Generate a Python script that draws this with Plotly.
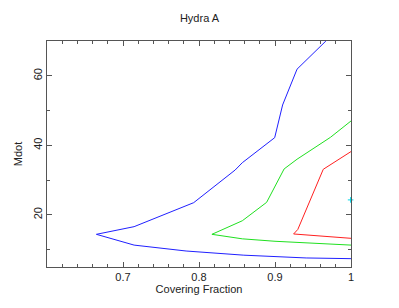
import plotly.graph_objects as go

# Contour lines (covering fraction vs Mdot)
blue_x = [0.975, 0.967, 0.929, 0.910, 0.8996, 0.857, 0.8476, 0.793, 0.7146, 0.665,
          0.7146, 0.783, 0.859, 0.941, 1.0]
blue_y = [72.0, 70.0, 61.9, 51.6, 42.2, 35.0, 32.9, 23.5, 16.6, 14.4,
          11.3, 9.6, 8.4, 7.6, 7.4]

green_x = [1.0, 0.973, 0.929, 0.912, 0.889, 0.88, 0.857, 0.817,
           0.857, 0.9, 1.0]
green_y = [47.0, 42.3, 36.0, 33.2, 23.6, 22.1, 18.3, 14.4,
           13.1, 12.4, 11.3]

red_x = [1.0, 0.9635, 0.93, 0.9245, 1.0]
red_y = [38.2, 33.1, 15.8, 14.5, 13.25]

cyan_x = [0.9995]
cyan_y = [24.3]

title = "Hydra A"
xlabel = "Covering Fraction"
ylabel = "Mdot"
x_ticks = [0.7, 0.8, 0.9, 1.0]
x_ticklabels = ["0.7", "0.8", "0.9", "1"]
y_ticks = [20, 40, 60]

fig = go.Figure()
for xs, ys, col in [(blue_x, blue_y, "#2020ff"), (green_x, green_y, "#20e020"),
                    (red_x, red_y, "#ff2020")]:
    fig.add_trace(go.Scatter(x=xs, y=ys, mode="lines",
                             line=dict(color=col, width=1), showlegend=False))
fig.add_trace(go.Scatter(x=cyan_x, y=cyan_y, mode="markers",
                         marker=dict(symbol="cross-thin", size=4,
                                     line=dict(color="#00d8e8", width=1)),
                         showlegend=False, cliponaxis=False))

font = dict(family="Liberation Sans, Arial, sans-serif", size=11, color="#222222")
axis_common = dict(
    showgrid=False, zeroline=False, showline=True, mirror="allticks",
    linecolor="#555555", linewidth=1, ticks="inside", ticklen=5,
    tickcolor="#555555", tickwidth=1, tickfont=font, automargin=False,
)
fig.update_layout(
    width=399, height=308,
    margin=dict(l=39, r=56, t=33, b=49),
    paper_bgcolor="white", plot_bgcolor="white",
    title=dict(text=title, x=(39 + 352 - 8) / 2 / 399, xanchor="center",
               y=0.967, yanchor="middle", font=font),
    xaxis=dict(range=[0.6, 1.0], tickvals=x_ticks, ticktext=x_ticklabels,
               title=dict(text=xlabel, font=font, standoff=1),
               minor=dict(dtick=0.02, ticks="inside", ticklen=3,
                          tickcolor="#555555", showgrid=False),
               **axis_common),
    yaxis=dict(range=[5, 70], tickvals=y_ticks, tickangle=-90,
               title=dict(text=ylabel, font=font, standoff=6),
               minor=dict(dtick=10, tick0=0, ticks="inside", ticklen=3,
                          tickcolor="#555555", showgrid=False),
               **axis_common),
)
fig.write_html("out.html")
